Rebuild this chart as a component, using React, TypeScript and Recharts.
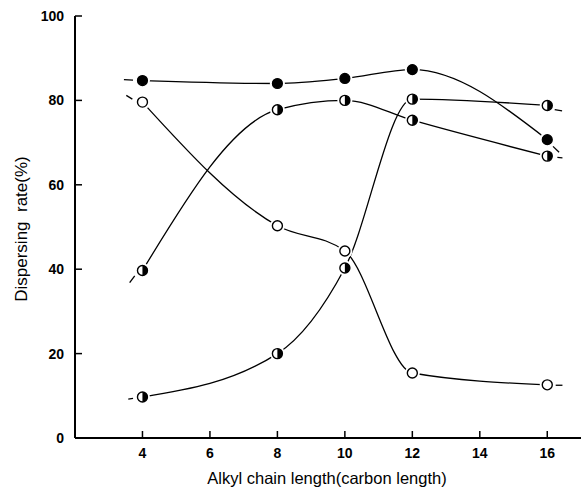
import React from "react";
import { LineChart, Line, XAxis, YAxis } from "recharts";

// Data
const chainLength = [4, 8, 10, 12, 16];
const filledRate = [84.7, 84.0, 85.2, 87.3, 70.7];
const openRate = [79.6, 50.3, 44.3, 15.4, 12.6];
const halfARate = [39.7, 77.8, 80.0, 75.3, 66.8];
const halfBRate = [9.7, 20.0, 40.3, 80.3, 78.8];

// short dashes of the curves drawn beyond the first / last points
// [outer x, inner x] and [outer value, inner value]
const leftStubX = { filled: [3.45, 3.72], open: [3.52, 3.7], halfA: [3.62, 3.77], halfB: [3.58, 3.72] };
const leftStubY = { filled: [84.9, 84.8], open: [81.2, 80.3], halfA: [36.8, 38.4], halfB: [9.2, 9.4] };
const rightStubX = { filled: [16.35, 16.17], open: [16.45, 16.25], halfA: [16.45, 16.3], halfB: [16.44, 16.22] };
const rightStubY = { filled: [67.7, 69.1], open: [12.5, 12.5], halfA: [66.4, 66.5], halfB: [77.5, 77.8] };

const xTicks = [4, 6, 8, 10, 12, 14, 16];
const yTicks = [0, 20, 40, 60, 80, 100];

type Row = { x: number; v: number };

function build(values: number[]): Row[] {
  return chainLength.map((c, i) => ({ x: c, v: values[i] }));
}
function stub(xs: number[], ys: number[]): Row[] {
  return xs.map((x, i) => ({ x, v: ys[i] }));
}

const filledData = build(filledRate);
const openData = build(openRate);
const halfAData = build(halfARate);
const halfBData = build(halfBRate);

const stubs: Row[][] = (["filled", "open", "halfA", "halfB"] as const).flatMap((k) => [
  stub(leftStubX[k], leftStubY[k]),
  stub(rightStubX[k], rightStubY[k]),
]);

const FONT = "'Liberation Sans', Arial, sans-serif";
const R = 5;

function makeDot(kind: "filled" | "open" | "right" | "left") {
  return (props: any) => {
    const { cx, cy, index } = props;
    if (cx == null || cy == null) return <g key={`d-${index}`} />;
    let inner: React.ReactNode;
    if (kind === "filled") {
      inner = <circle cx={cx} cy={cy} r={R} fill="#000" stroke="#000" strokeWidth={1.2} />;
    } else if (kind === "open") {
      inner = <circle cx={cx} cy={cy} r={R} fill="#fff" stroke="#000" strokeWidth={1.4} />;
    } else {
      const sweep = kind === "right" ? 1 : 0;
      inner = (
        <>
          <circle cx={cx} cy={cy} r={R} fill="#fff" stroke="#000" strokeWidth={1.4} />
          <path d={`M ${cx} ${cy - R} A ${R} ${R} 0 0 ${sweep} ${cx} ${cy + R} Z`} fill="#000" />
        </>
      );
    }
    return (
      <g key={`d-${index}`}>
        <circle cx={cx} cy={cy} r={R + 2.5} fill="#fff" />
        {inner}
      </g>
    );
  };
}

const YTick = (props: any) => {
  const { x, y, payload } = props;
  return (
    <g>
      <line x1={x + 10} x2={x + 17} y1={y} y2={y} stroke="#000" strokeWidth={1.5} />
      <text x={x - 1} y={y} dy={5} textAnchor="end" fontFamily={FONT} fontWeight="bold" fontSize={14} fill="#000">
        {payload.value}
      </text>
    </g>
  );
};

const XTick = (props: any) => {
  const { x, y, payload } = props;
  return (
    <g>
      <line x1={x} x2={x} y1={y - 8} y2={y - 15} stroke="#000" strokeWidth={1.5} />
      <text x={x} y={y + 12} textAnchor="middle" fontFamily={FONT} fontWeight="bold" fontSize={14} fill="#000">
        {payload.value}
      </text>
    </g>
  );
};

const lineProps = {
  dataKey: "v",
  stroke: "#000",
  strokeWidth: 1.3,
  activeDot: false as const,
  isAnimationActive: false,
};

export default function App() {
  return (
    <div style={{ position: "absolute", left: 0, top: 0, width: 583, height: 491, background: "#fff" }}>
      <LineChart width={583} height={491} margin={{ top: 16, right: 2, bottom: 0, left: 0 }}>
        <XAxis
          type="number"
          dataKey="x"
          domain={[2, 17]}
          ticks={xTicks}
          tickSize={0}
          tickMargin={8}
          tick={<XTick />}
          axisLine={{ stroke: "#000", strokeWidth: 2 }}
          tickLine={false}
          allowDataOverflow
          height={53}
        />
        <XAxis
          xAxisId="top"
          orientation="top"
          type="number"
          dataKey="x"
          domain={[2, 17]}
          tick={false}
          tickLine={false}
          axisLine={{ stroke: "#000", strokeWidth: 2 }}
          height={0}
        />
        <YAxis
          type="number"
          domain={[0, 100]}
          ticks={yTicks}
          tickSize={0}
          tickMargin={10}
          tick={<YTick />}
          tickLine={false}
          axisLine={{ stroke: "#000", strokeWidth: 2 }}
          width={75}
        />
        <YAxis
          yAxisId="right"
          orientation="right"
          type="number"
          domain={[0, 100]}
          tick={false}
          tickLine={false}
          axisLine={{ stroke: "#000", strokeWidth: 2 }}
          width={0}
        />
        {stubs.map((d, i) => (
          <Line key={`stub-${i}`} data={d} type="linear" dot={false} {...lineProps} />
        ))}
        <Line data={filledData} type="monotoneX" dot={makeDot("filled")} {...lineProps} />
        <Line data={openData} type="monotoneX" dot={makeDot("open")} {...lineProps} />
        <Line data={halfAData} type="monotoneX" dot={makeDot("right")} {...lineProps} />
        <Line data={halfBData} type="monotoneX" dot={makeDot("right")} {...lineProps} />
        <text x={327} y={484} textAnchor="middle" fontFamily={FONT} fontSize={16.5} fill="#000">
          Alkyl chain length(carbon length)
        </text>
        <text
          x={27}
          y={229}
          textAnchor="middle"
          fontFamily={FONT}
          fontSize={17}
          fill="#000"
          style={{ whiteSpace: "pre" }}
          transform="rotate(-90 27 229)"
        >
          {"Dispersing  rate(%)"}
        </text>
      </LineChart>
    </div>
  );
}
